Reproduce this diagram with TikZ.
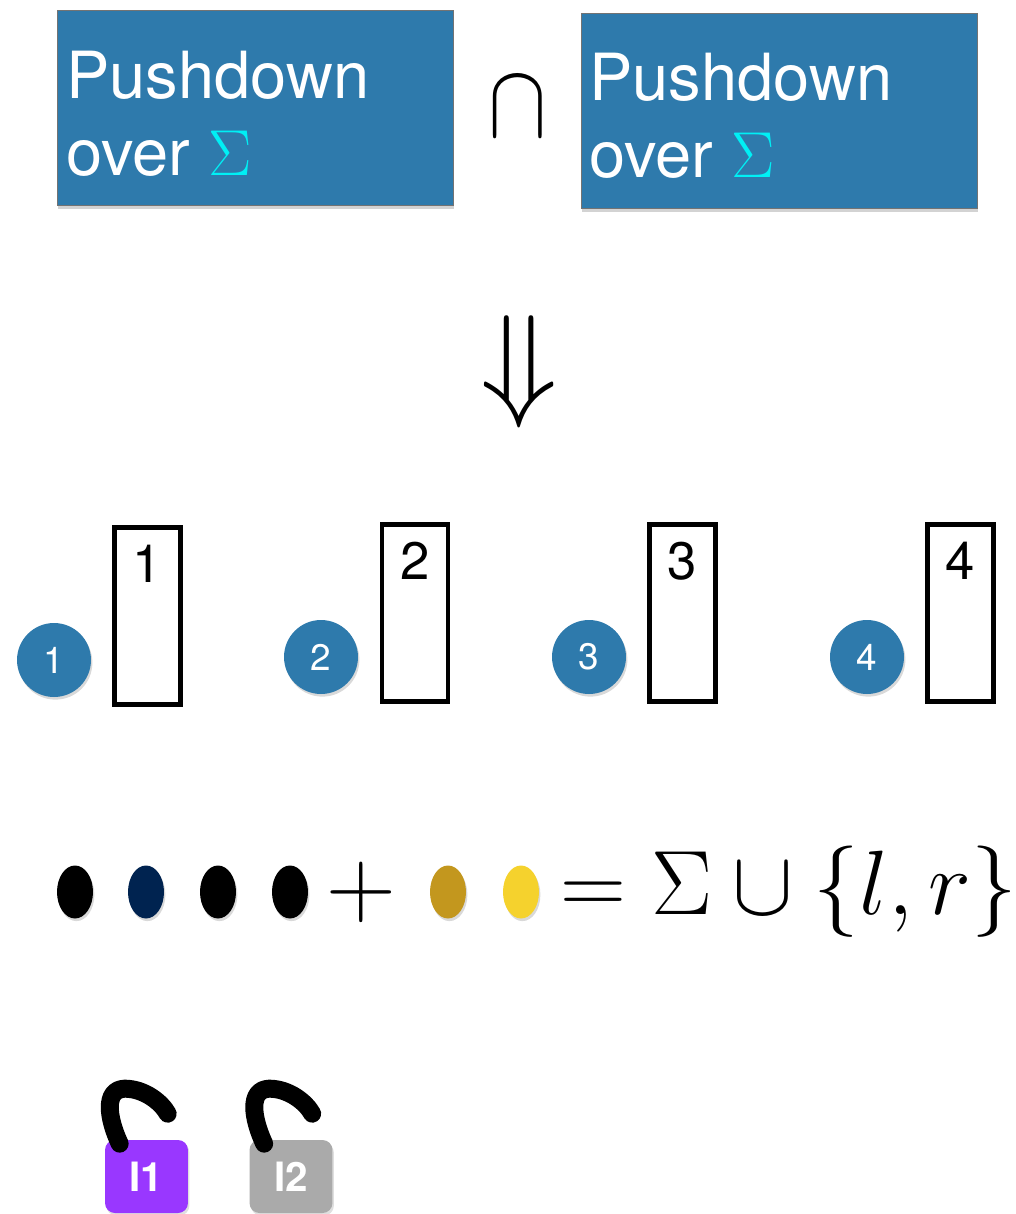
\RequirePackage{fix-cm}
\documentclass[tikz,border=0pt]{standalone}
\usepackage[no-math]{fontspec}
\usepackage{graphicx}
\usepackage{tikz}
\usetikzlibrary{shapes.geometric,shadows,positioning,calc}
\newfontfamily\helv{TeX Gyre Heros}
\definecolor{pdBlue}{RGB}{46,122,172}
\definecolor{sigCyan}{RGB}{0,240,245}
\definecolor{dotNavy}{RGB}{0,35,80}
\definecolor{dotGold}{RGB}{195,151,30}
\definecolor{dotYellow}{RGB}{245,210,45}
\definecolor{lockPurple}{RGB}{153,55,255}
\definecolor{lockGray}{RGB}{170,170,170}

\begin{document}
\begin{tikzpicture}[
    x=0.02cm, y=-0.02cm,
    pdbox/.style={rectangle, draw=black!55, line width=0.4pt, fill=pdBlue, minimum width=7.92cm, minimum height=3.9cm, drop shadow={shadow xshift=0.6pt, shadow yshift=-2pt, opacity=0.35}},
    pdtext/.style={anchor=base west, inner sep=0, text=white, font=\helv\fontsize{37}{37}\selectfont},
    circ/.style={circle, fill=pdBlue, minimum size=1.48cm, inner sep=0, text=white, font=\helv\fontsize{21}{21}\selectfont, drop shadow={shadow xshift=0.8pt, shadow yshift=-1.5pt, opacity=0.3}},
    tape/.style={rectangle, draw, line width=2.8pt, fill=white, minimum width=1.32cm, minimum height=3.54cm, drop shadow={shadow xshift=1pt, shadow yshift=-1.5pt, opacity=0.25}},
    tapelabel/.style={inner sep=0, font=\helv\fontsize{30}{30}\selectfont},
    dot/.style={ellipse, minimum width=0.72cm, minimum height=1.06cm, inner sep=0, drop shadow={shadow xshift=0.8pt, shadow yshift=-1.5pt, opacity=0.3}},
    lock/.style={rectangle, rounded corners=0.2cm, minimum width=1.66cm, minimum height=1.46cm, text=white, font=\helv\bfseries\fontsize{23}{23}\selectfont, drop shadow={shadow xshift=0.8pt, shadow yshift=-1.5pt, opacity=0.25}},
    hook/.style={line width=0.36cm, line cap=round, line join=round}
]
    \useasboundingbox (0,0) rectangle (1016,1214);

    % Pushdown boxes
    \node[pdbox, anchor=north west] (pd1) at (57,10) {};
    \node[pdbox, anchor=north west] (pd2) at (581,13) {};
    \node[pdtext] (pd1top) at ($(pd1.north west)+(9,88)$) {Pushdown};
    \node[pdtext] (pd1bot) at ($(pd1.north west)+(9,165)$) {over {\color{sigCyan}$\Sigma$}};
    \node[pdtext] (pd2top) at ($(pd2.north west)+(8,87)$) {Pushdown};
    \node[pdtext] (pd2bot) at ($(pd2.north west)+(8,164)$) {over {\color{sigCyan}$\Sigma$}};
    \node (cap) at (518,107) {\scalebox{1}[1.2]{\fontsize{50}{50}\selectfont$\cap$}};

    % Implication
    \node (implies) at (519,372) {\fontsize{72}{72}\selectfont$\Downarrow$};

    % States and stacks
    \foreach \i/\cx/\rx/\y in {1/54/147.5/3, 2/321/415/0, 3/589/682.5/0, 4/867/960.5/0} {
        \node[circ] (circ\i) at (\cx,657+\y) {\i};
        \node[tape] (tape\i) at (\rx,613+\y) {};
        \node[tapelabel, below=0.4cm of tape\i.north] (lab\i) {\i};
    }

    % Alphabet
    \foreach \x/\c [count=\i] in {75/black, 146/dotNavy, 218/black, 290/black, 448/dotGold, 521/dotYellow}
        \node[dot, fill=\c] (dot\i) at (\x,892) {};
    \node (plus) at (361,892) {\fontsize{55}{55}\selectfont$+$};
    \node[anchor=base west, inner sep=0] (alph) at (560,914) {\fontsize{52}{52}\selectfont$=\Sigma\cup\{l,r\}$};

    % Locks
    \node[lock, fill=lockPurple] (l1) at (146.5,1176.5) {I1};
    \node[lock, fill=lockGray] (l2) at (291,1176.5) {I2};
    \foreach \b in {l1,l2}
        \draw[hook] ($(\b.north west)+(15,4)$) .. controls ($(\b.north west)+(3,-22)$) and ($(\b.north west)+(-1,-50)$) .. ($(\b.north west)+(20,-51)$) .. controls ($(\b.north west)+(40,-51)$) and ($(\b.north west)+(57,-37)$) .. ($(\b.north west)+(63,-26)$);
\end{tikzpicture}
\end{document}
